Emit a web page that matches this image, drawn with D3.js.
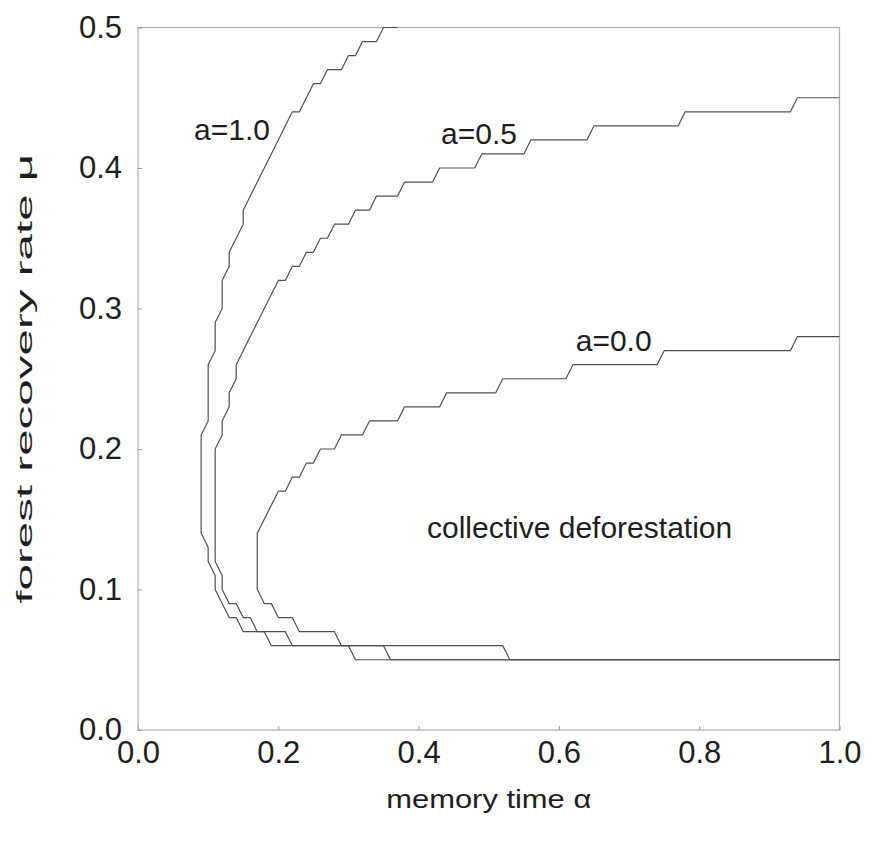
<!DOCTYPE html>
<html>
<head>
<meta charset="utf-8">
<script src="https://cdn.jsdelivr.net/npm/d3@7"></script>
<style>
  body { margin: 0; background: #fff; }
  text { font-family: "Liberation Sans", Arial, sans-serif; fill: #1e1e1e; }
</style>
</head>
<body>
<div id="chart"></div>
<script>
// Tick values
const xTicks = [0.0, 0.2, 0.4, 0.6, 0.8, 1.0];
const yTicks = [0.0, 0.1, 0.2, 0.3, 0.4, 0.5];

// Boundary curves, one row per mu level: [mu, alpha where the step starts, alpha where it ends]
// in drawing order (top right -> left -> bottom right)
const steps_a10 = [
  [0.50, 0.37, 0.35], [0.49, 0.34, 0.32], [0.48, 0.31, 0.30], [0.47, 0.29, 0.27],
  [0.46, 0.26, 0.25], [0.45, 0.24, 0.24], [0.44, 0.23, 0.22], [0.43, 0.21, 0.21],
  [0.42, 0.20, 0.20], [0.41, 0.19, 0.19], [0.40, 0.18, 0.18], [0.39, 0.17, 0.17],
  [0.38, 0.16, 0.16], [0.37, 0.15, 0.15], [0.36, 0.15, 0.15], [0.35, 0.14, 0.14],
  [0.34, 0.13, 0.13], [0.33, 0.13, 0.13], [0.32, 0.12, 0.12], [0.31, 0.12, 0.12],
  [0.30, 0.12, 0.12], [0.29, 0.11, 0.11], [0.28, 0.11, 0.11], [0.27, 0.11, 0.11],
  [0.26, 0.10, 0.10], [0.22, 0.10, 0.10], [0.21, 0.09, 0.09], [0.14, 0.09, 0.09],
  [0.13, 0.10, 0.10], [0.12, 0.10, 0.10], [0.11, 0.11, 0.11], [0.10, 0.11, 0.11],
  [0.09, 0.12, 0.12], [0.08, 0.13, 0.14], [0.07, 0.15, 0.18], [0.06, 0.19, 0.35],
  [0.05, 0.36, 1.00]
];

const steps_a05 = [
  [0.45, 1.00, 0.94], [0.44, 0.93, 0.78], [0.43, 0.77, 0.65], [0.42, 0.64, 0.56],
  [0.41, 0.55, 0.49], [0.40, 0.48, 0.43], [0.39, 0.42, 0.38], [0.38, 0.37, 0.34],
  [0.37, 0.33, 0.31], [0.36, 0.30, 0.28], [0.35, 0.27, 0.26], [0.34, 0.25, 0.24],
  [0.33, 0.23, 0.22], [0.32, 0.21, 0.20], [0.31, 0.19, 0.19], [0.30, 0.18, 0.18],
  [0.29, 0.17, 0.17], [0.28, 0.16, 0.16], [0.27, 0.15, 0.15], [0.26, 0.14, 0.14],
  [0.25, 0.14, 0.14], [0.24, 0.13, 0.13], [0.23, 0.13, 0.13], [0.22, 0.12, 0.12],
  [0.21, 0.12, 0.12], [0.20, 0.11, 0.11], [0.12, 0.11, 0.11], [0.11, 0.12, 0.12],
  [0.10, 0.12, 0.12], [0.09, 0.13, 0.14], [0.08, 0.15, 0.16], [0.07, 0.17, 0.21],
  [0.06, 0.22, 0.30], [0.05, 0.31, 1.00]
];

const steps_a00 = [
  [0.28, 1.00, 0.94], [0.27, 0.93, 0.75], [0.26, 0.74, 0.62], [0.25, 0.61, 0.52],
  [0.24, 0.51, 0.44], [0.23, 0.43, 0.38], [0.22, 0.37, 0.33], [0.21, 0.32, 0.29],
  [0.20, 0.28, 0.26], [0.19, 0.25, 0.24], [0.18, 0.23, 0.22], [0.17, 0.21, 0.20],
  [0.16, 0.19, 0.19], [0.15, 0.18, 0.18], [0.14, 0.17, 0.17], [0.10, 0.17, 0.17],
  [0.09, 0.18, 0.19], [0.08, 0.20, 0.22], [0.07, 0.23, 0.28], [0.06, 0.29, 0.52],
  [0.05, 0.53, 1.00]
];

// Curve labels [text, alpha, mu] and region label
const curveLabels = [
  ['a=1.0', 0.080, 0.420],
  ['a=0.5', 0.432, 0.417],
  ['a=0.0', 0.624, 0.270]
];
const regionLabel = ['collective deforestation', 0.412, 0.137];

const width = 870, height = 845;
const margin = {top: 27.5, right: 30, bottom: 115, left: 138};

const svg = d3.select('#chart').append('svg')
  .attr('width', width)
  .attr('height', height);

const x = d3.scaleLinear().domain([0, 1]).range([margin.left, width - margin.right - 0.5]);
const y = d3.scaleLinear().domain([0, 0.5]).range([height - margin.bottom, margin.top]);

// frame
svg.append('rect')
  .attr('x', x(0))
  .attr('y', y(0.5))
  .attr('width', x(1) - x(0))
  .attr('height', y(0) - y(0.5))
  .attr('fill', 'none')
  .attr('stroke', '#b0b0b0')
  .attr('stroke-width', 1.2);

// x axis
const xAxis = svg.append('g')
  .attr('transform', 'translate(0,' + y(0) + ')')
  .call(d3.axisBottom(x).tickValues(xTicks).tickFormat(d3.format('.1f'))
    .tickSizeInner(-4).tickSizeOuter(0).tickPadding(11));
xAxis.select('.domain').remove();
xAxis.selectAll('line').attr('stroke', '#999');
xAxis.selectAll('text').style('font-size', '31px').attr('fill', '#1e1e1e');

// y axis
const yAxis = svg.append('g')
  .attr('transform', 'translate(' + x(0) + ',0)')
  .call(d3.axisLeft(y).tickValues(yTicks).tickFormat(d3.format('.1f'))
    .tickSizeInner(-4).tickSizeOuter(0).tickPadding(16));
yAxis.select('.domain').remove();
yAxis.selectAll('line').attr('stroke', '#999');
yAxis.selectAll('text').style('font-size', '31px').attr('fill', '#1e1e1e');

// turn the step rows into vertices
function toPoints (steps) {
  let pts = [];
  steps.forEach(function (s) {
    pts.push([s[1], s[0]]);
    if (s[2] !== s[1]) pts.push([s[2], s[0]]);
  });
  return pts;
}

const line = d3.line()
  .x(function (d) { return x(d[0]); })
  .y(function (d) { return y(d[1]); });

[steps_a10, steps_a05, steps_a00].forEach(function (steps) {
  svg.append('path')
    .datum(toPoints(steps))
    .attr('fill', 'none')
    .attr('stroke', '#505050')
    .attr('stroke-width', 1.2)
    .attr('stroke-linejoin', 'round')
    .attr('d', line);
});

// labels
curveLabels.forEach(function (l) {
  svg.append('text')
    .attr('x', x(l[1]))
    .attr('y', y(l[2]))
    .style('font-size', '30px')
    .text(l[0]);
});

svg.append('text')
  .attr('x', x(regionLabel[1]))
  .attr('y', y(regionLabel[2]))
  .style('font-size', '30px')
  .text(regionLabel[0]);

// axis titles
svg.append('text')
  .attr('x', (x(0) + x(1)) / 2)
  .attr('y', 808)
  .attr('text-anchor', 'middle')
  .style('font-size', '25px')
  .attr('textLength', 205)
  .attr('lengthAdjust', 'spacingAndGlyphs')
  .text('memory time \u03b1');

svg.append('text')
  .attr('transform', 'translate(32,' + ((y(0) + y(0.5)) / 2) + ') rotate(-90)')
  .attr('text-anchor', 'middle')
  .style('font-size', '22px')
  .attr('textLength', 450)
  .attr('lengthAdjust', 'spacingAndGlyphs')
  .text('forest recovery rate \u03bc');
</script>
</body>
</html>
